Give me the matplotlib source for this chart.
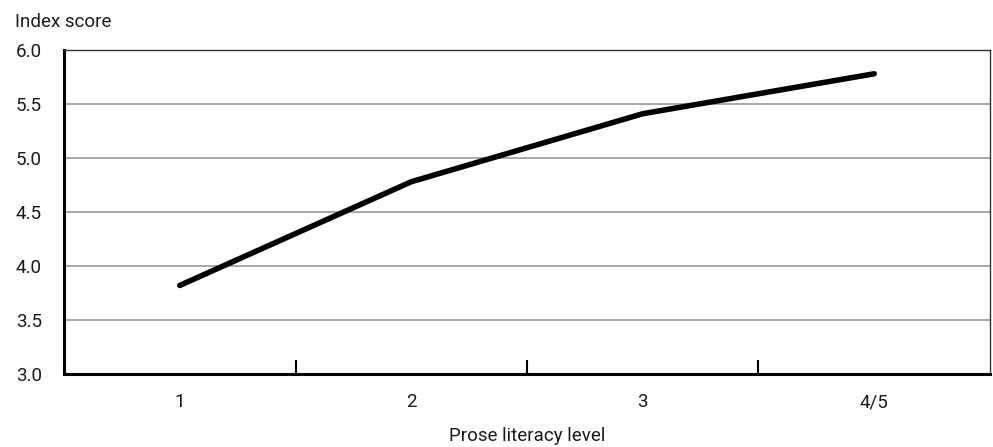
import matplotlib.pyplot as plt

levels = ["1", "2", "3", "4/5"]
index_score = [3.82, 4.78, 5.41, 5.78]
y_ticks = [3.0, 3.5, 4.0, 4.5, 5.0, 5.5, 6.0]

plt.rcParams['font.family'] = ['Roboto', 'DejaVu Sans']

fig = plt.figure(figsize=(9.93, 4.47), dpi=100)
ax = fig.add_axes([64 / 993, 73 / 447, 926 / 993, 324 / 447])

x_pos = [i + 0.5 for i, _ in enumerate(levels)]
ax.plot(x_pos, index_score, color="black", linewidth=4.0, solid_capstyle="round", zorder=3)

ax.set_xlim(0, len(levels))
ax.set_ylim(3.0, 6.0)
ax.set_yticks(y_ticks)
ax.set_yticklabels([f"{v:.1f}" for v in y_ticks], fontsize=13.5, color="#1a1a1a")
ax.yaxis.grid(True, color="#999999", linewidth=1.2)
ax.tick_params(axis="y", length=0, pad=16)

ax.set_xticks(range(1, len(levels)))
ax.set_xticklabels([])
ax.tick_params(axis="x", which="major", direction="in", length=10, width=1.5, color="black")
ax.set_xticks(x_pos, minor=True)
ax.set_xticklabels(levels, minor=True, fontsize=13.5, color="#1a1a1a")
ax.tick_params(axis="x", which="minor", length=0, pad=14)

ax.spines["left"].set_linewidth(2.2)
ax.spines["bottom"].set_linewidth(2.2)
ax.spines["top"].set_linewidth(1.0)
ax.spines["right"].set_linewidth(1.0)
ax.spines["top"].set_color("#333333")
ax.spines["right"].set_color("#333333")

ax.set_xlabel("Prose literacy level", fontsize=13.5, color="#1a1a1a", labelpad=11)
fig.text(15 / 993, 1 - 22 / 447, "Index score", fontsize=13.5, color="#1a1a1a", va="center")

fig.savefig("out.png", dpi=100)
